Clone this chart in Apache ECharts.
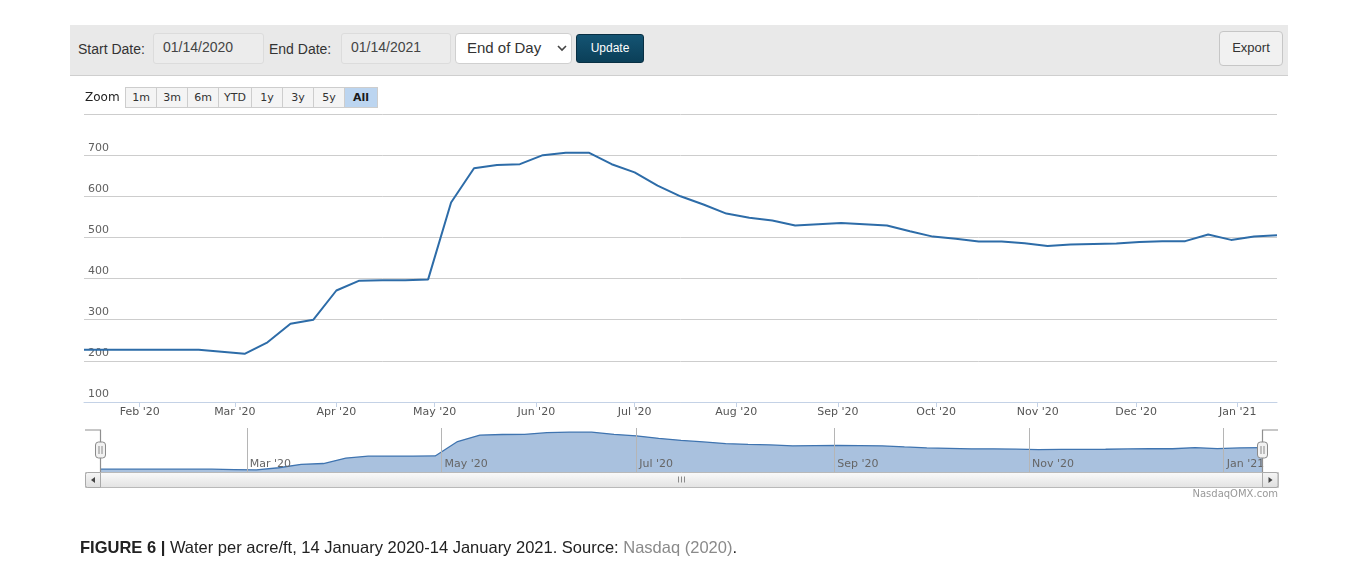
<!DOCTYPE html>
<html><head><meta charset="utf-8">
<script src="https://cdn.jsdelivr.net/npm/echarts@6/dist/echarts.min.js"></script>
<style>
html,body{margin:0;padding:0;background:#fff;}
#wrap{position:relative;width:1356px;height:564px;overflow:hidden;background:#fff;}
#chart{position:absolute;left:0;top:0;width:1356px;height:564px;}
.ov{position:absolute;font-family:"Liberation Sans",Arial,sans-serif;box-sizing:border-box;white-space:nowrap;}
#toolbar{left:70px;top:25px;width:1218px;height:51px;background:#e9e9e9;border-bottom:1px solid #cfcfcf;}
.lbl{font-size:14px;color:#333;top:41px;}
.inp{top:33px;height:31px;background:#ececec;border:1px solid #dcdcdc;border-radius:3px;font-size:14px;color:#444;padding-left:9px;line-height:27px;}
#sel{left:455px;top:33px;width:117px;height:31px;background:#fff;border:1px solid #d0d0d0;border-radius:4px;font-size:15px;color:#333;padding-left:11px;line-height:28px;}
#upd{left:576px;top:34px;width:68px;height:29px;background:linear-gradient(#145473,#0b3f58);border:1px solid #082f43;border-radius:3px;color:#fff;font-size:12px;text-align:center;line-height:27px;}
#exp{left:1219px;top:31px;width:64px;height:35px;background:#f1f1f1;border:1px solid #c6c6c6;border-radius:4px;color:#333;font-size:13px;text-align:center;line-height:31px;}
#zoomlbl{left:85px;top:90px;font-family:"DejaVu Sans",Verdana,sans-serif;font-size:12px;color:#222;}
#zbtns{left:125px;top:87px;height:21px;display:flex;font-family:"DejaVu Sans",Verdana,sans-serif;font-size:11px;color:#333;}
#zbtns span{display:block;height:21px;line-height:19px;border:1px solid #cdcdcd;margin-right:-1px;background:#f4f4f4;text-align:center;box-sizing:border-box;}
#zbtns span.sel{background:#bcd5f0;font-weight:bold;color:#1a1a1a;}
#cap{left:80px;top:538px;font-family:"Liberation Sans Narrow","Liberation Sans",Arial,sans-serif;font-size:16.5px;color:#222;}
#cap b{font-weight:bold;}
#cap .src{color:#8a8a8a;}
</style>
</head><body>
<div id="wrap">
<div id="chart"></div>
<div class="ov" id="toolbar"></div>
<div class="ov lbl" style="left:78px;">Start Date:</div>
<div class="ov inp" style="left:153px;width:111px;">01/14/2020</div>
<div class="ov lbl" style="left:269px;">End Date:</div>
<div class="ov inp" style="left:341px;width:110px;">01/14/2021</div>
<div class="ov" id="sel">End of Day<svg style="position:absolute;left:101px;top:11px" width="10" height="7"><polyline points="1,1 5,5 9,1" fill="none" stroke="#444" stroke-width="1.6"/></svg></div>
<div class="ov" id="upd">Update</div>
<div class="ov" id="exp">Export</div>
<div class="ov" id="zoomlbl">Zoom</div>
<div class="ov" id="zbtns"></div>
<div class="ov" id="cap"><b>FIGURE 6 |</b> Water per acre/ft, 14 January 2020-14 January 2021. Source: <span class="src">Nasdaq (2020)</span>.</div>
</div>
<script>
// ---- data ----
const dates = ['2020-01-15','2020-01-22','2020-01-29','2020-02-05','2020-02-12','2020-02-19','2020-02-26',
'2020-03-04','2020-03-11','2020-03-18','2020-03-25','2020-04-01','2020-04-08','2020-04-15','2020-04-22','2020-04-29',
'2020-05-06','2020-05-13','2020-05-20','2020-05-27','2020-06-03','2020-06-10','2020-06-17','2020-06-24',
'2020-07-01','2020-07-08','2020-07-15','2020-07-22','2020-07-29','2020-08-05','2020-08-12','2020-08-19','2020-08-26',
'2020-09-02','2020-09-09','2020-09-16','2020-09-23','2020-09-30','2020-10-07','2020-10-14','2020-10-21','2020-10-28',
'2020-11-04','2020-11-11','2020-11-18','2020-11-25','2020-12-02','2020-12-09','2020-12-16','2020-12-23','2020-12-30',
'2021-01-06','2021-01-13'];
const values = [227,227,227,227,227,227,222,
217,245,290,300,371,395,396,396,398,
585,668,676,678,700,706,706,678,
658,626,600,580,558,548,541,529,532,
535,532,529,515,502,497,490,490,486,
479,483,484,485,489,491,491,507,494,
502,505];
const yTicks = [100,200,300,400,500,600,700,800];
const monthTickDates = ['2020-02-01','2020-03-01','2020-04-01','2020-05-01','2020-06-01','2020-07-01','2020-08-01',
'2020-09-01','2020-10-01','2020-11-01','2020-12-01','2021-01-01'];
const monthTickLabels = ["Feb '20","Mar '20","Apr '20","May '20","Jun '20","Jul '20","Aug '20",
"Sep '20","Oct '20","Nov '20","Dec '20","Jan '21"];
const navTickDates = ['2020-03-01','2020-05-01','2020-07-01','2020-09-01','2020-11-01','2021-01-01'];
const navTickLabels = ["Mar '20","May '20","Jul '20","Sep '20","Nov '20","Jan '21"];
const zoomButtons = ['1m','3m','6m','YTD','1y','3y','5y','All'];

// ---- zoom buttons ----
const zb = document.getElementById('zbtns');
zoomButtons.forEach(function(t){
  const s = document.createElement('span');
  s.textContent = t;
  s.style.width = (t.length === 3 ? 34 : 32) + 'px';
  if (t === 'All') s.className = 'sel';
  zb.appendChild(s);
});

function ts(s){const p=s.split('-').map(Number);return Date.UTC(p[0],p[1]-1,p[2]);}
const data = dates.map(function(d,i){return [ts(d), values[i]];});
const mTs = monthTickDates.map(ts);
const nTs = navTickDates.map(ts);
function lookup(arr, labels){
  return function(v){
    let best=0, bd=Infinity;
    for (let i=0;i<arr.length;i++){const d=Math.abs(arr[i]-v); if(d<bd){bd=d;best=i;}}
    return labels[best];
  };
}
const xMin = ts(dates[0]), xMax = ts(dates[dates.length-1]);
const FONT = '"DejaVu Sans", Verdana, sans-serif';

const chart = echarts.init(document.getElementById('chart'), null, {renderer:'canvas'});
chart.setOption({
  animation:false,
  backgroundColor:'transparent',
  grid:[
    {left:84, top:114, width:1193, height:288, containLabel:false},
    {left:100, top:428, width:1162, height:44, containLabel:false}
  ],
  xAxis:[
    {type:'value', gridIndex:0, min:xMin, max:xMax,
     axisLine:{show:true, lineStyle:{color:'#c4d2e6', width:1}},
     axisTick:{show:true, customValues:mTs, length:5, lineStyle:{color:'#c4d2e6'}},
     axisLabel:{show:true, customValues:mTs, formatter:lookup(mTs, monthTickLabels), color:'#555',
       fontFamily:FONT, fontSize:11, margin:5, hideOverlap:false},
     splitLine:{show:false}},
    {type:'value', gridIndex:1, min:xMin, max:xMax, z:10,
     axisLine:{show:false},
     axisTick:{show:false, customValues:nTs},
     axisLabel:{show:true, inside:true, customValues:nTs, formatter:lookup(nTs, navTickLabels), color:'#666',
       fontFamily:FONT, fontSize:11, margin:2, align:'left', padding:[0,0,0,3], hideOverlap:false},
     splitLine:{show:true, lineStyle:{color:'#b5b5b5', width:1}}}
  ],
  yAxis:[
    {type:'value', gridIndex:0, min:yTicks[0], max:yTicks[yTicks.length-1], interval:100,
     axisLine:{show:false}, axisTick:{show:false},
     axisLabel:{inside:true, margin:4, color:'#606060', fontFamily:FONT, fontSize:11, verticalAlign:'bottom',
       padding:[0,0,2,0], showMaxLabel:false},
     splitLine:{show:true, lineStyle:{color:'#cdcdcd', width:1}}},
    {type:'value', gridIndex:1, min:190, max:760, show:false, splitLine:{show:false}}
  ],
  series:[
    {type:'line', xAxisIndex:0, yAxisIndex:0, data:data, showSymbol:false, symbol:'none',
     lineStyle:{color:'#2d6ca8', width:2}, z:5},
    {type:'line', xAxisIndex:1, yAxisIndex:1, data:data, showSymbol:false, symbol:'none',
     lineStyle:{color:'#3f74b0', width:1.3}, areaStyle:{color:'#a9c1de', opacity:1, origin:'start'}, z:2}
  ]
});

// navigator furniture positioned from the navigator axis
const xL = Math.round(chart.convertToPixel({xAxisIndex:1}, xMin)) + 0.5;
const xR = Math.round(chart.convertToPixel({xAxisIndex:1}, xMax)) + 0.5;
const leftEdge = 85, rightEdge = 1278, navTop = 430, navBot = 472, sbTop = 472.5, sbH = 15;
function handle(x){
  return [
    {type:'rect', shape:{x:x-5, y:442, width:10, height:16, r:3}, style:{fill:'#f2f2f2', stroke:'#8a8a8a', lineWidth:1}, z:20},
    {type:'line', shape:{x1:x-1.5, y1:446, x2:x-1.5, y2:454}, style:{stroke:'#8a8a8a', lineWidth:1}, z:21},
    {type:'line', shape:{x1:x+1.5, y1:446, x2:x+1.5, y2:454}, style:{stroke:'#8a8a8a', lineWidth:1}, z:21}
  ];
}
const mid = (xL + xR) / 2;
const g = [
  {type:'rect', shape:{x:xR+1, y:440, width:20, height:31}, style:{fill:'#fff'}, z:15},
  {type:'polyline', shape:{points:[[leftEdge,navTop],[xL,navTop],[xL,navBot]]}, style:{stroke:'#8f8f8f', lineWidth:1.2, fill:null}, z:18},
  {type:'polyline', shape:{points:[[xR,navBot],[xR,navTop],[rightEdge,navTop]]}, style:{stroke:'#8f8f8f', lineWidth:1.2, fill:null}, z:18},
  {type:'rect', shape:{x:leftEdge+0.5, y:sbTop, width:rightEdge-leftEdge, height:sbH}, style:{fill:'#eeeeee', stroke:'#c4c4c4', lineWidth:1}, z:10},
  {type:'rect', shape:{x:xL, y:sbTop, width:xR-xL, height:sbH},
   style:{fill:new echarts.graphic.LinearGradient(0,0,0,1,[{offset:0,color:'#fbfbfb'},{offset:1,color:'#e2e2e2'}]), stroke:'#b9b9b9', lineWidth:1}, z:11},
  {type:'line', shape:{x1:mid-3, y1:sbTop+4, x2:mid-3, y2:sbTop+10}, style:{stroke:'#8a8a8a'}, z:12},
  {type:'line', shape:{x1:mid, y1:sbTop+4, x2:mid, y2:sbTop+10}, style:{stroke:'#8a8a8a'}, z:12},
  {type:'line', shape:{x1:mid+3, y1:sbTop+4, x2:mid+3, y2:sbTop+10}, style:{stroke:'#8a8a8a'}, z:12},
  {type:'rect', shape:{x:leftEdge+0.5, y:sbTop, width:xL-leftEdge-0.5, height:sbH, r:[2,0,0,2]},
   style:{fill:new echarts.graphic.LinearGradient(0,0,0,1,[{offset:0,color:'#f6f6f6'},{offset:1,color:'#dedede'}]), stroke:'#a9a9a9', lineWidth:1}, z:12},
  {type:'polygon', shape:{points:[[leftEdge+10,sbTop+4.5],[leftEdge+10,sbTop+10.5],[leftEdge+6,sbTop+7.5]]}, style:{fill:'#444'}, z:13},
  {type:'rect', shape:{x:xR, y:sbTop, width:rightEdge-xR, height:sbH, r:[0,2,2,0]},
   style:{fill:new echarts.graphic.LinearGradient(0,0,0,1,[{offset:0,color:'#f6f6f6'},{offset:1,color:'#dedede'}]), stroke:'#a9a9a9', lineWidth:1}, z:12},
  {type:'polygon', shape:{points:[[xR+6,sbTop+4.5],[xR+6,sbTop+10.5],[xR+10,sbTop+7.5]]}, style:{fill:'#444'}, z:13},
  {type:'text', x:rightEdge, y:489, style:{text:'NasdaqOMX.com', fill:'#999', font:'10px "DejaVu Sans", Verdana, sans-serif', align:'right', verticalAlign:'top'}, z:12}
].concat(handle(xL), handle(xR));
chart.setOption({graphic:g});
</script>
</body></html>
